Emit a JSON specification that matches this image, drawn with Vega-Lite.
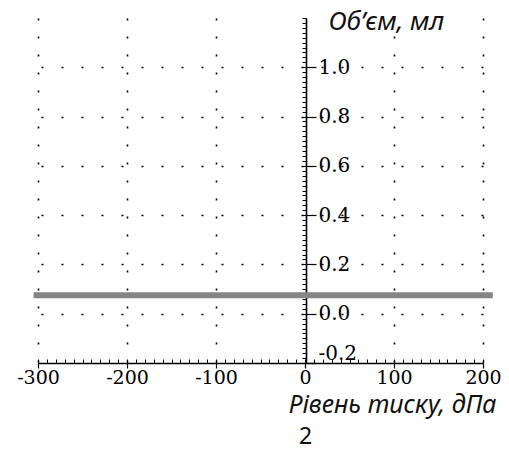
{
  "$schema": "https://vega.github.io/schema/vega-lite/v6.json",
  "width": 445,
  "height": 345,
  "autosize": "none",
  "padding": {"left": 38, "top": 18, "right": 26, "bottom": 92},
  "background": "white",
  "config": {"view": {"stroke": null}},
  "title": {"text": "2", "orient": "bottom", "frame": "group", "anchor": "middle", "dx": 45, "offset": 9, "font": "Noto Sans", "fontSize": 23, "fontWeight": "normal", "color": "#111"},
  "data": {"values": [
    {"p": -305, "v": 0.075},
    {"p": -200, "v": 0.075},
    {"p": -100, "v": 0.075},
    {"p": 0, "v": 0.075},
    {"p": 100, "v": 0.075},
    {"p": 211, "v": 0.075}
  ]},
  "layer": [
    {
      "mark": {"type": "line", "color": "#858585", "strokeWidth": 6, "clip": false},
      "encoding": {
        "x": {"field": "p", "type": "quantitative", "scale": {"domain": [-300, 200], "nice": false, "zero": false},
          "axis": {"orient": "bottom", "values": [-300, -200, -100, 0, 100, 200],
            "labelExpr": "replace(format(datum.value, 'd'), '\u2212', '-')",
            "title": "Рівень тиску, дПа", "titleX": 458, "titleY": 41, "titleAlign": "right", "titleBaseline": "middle", "titleAngle": 0,
            "titleFont": "Noto Sans", "titleFontStyle": "italic", "titleFontWeight": "normal", "titleFontSize": 25, "titleColor": "#111",
            "labelFont": "DejaVu Serif", "labelFontSize": 19, "labelColor": "#000", "labelPadding": 0, "labelFlush": false, "labelOverlap": false, "labelBound": false,
            "tickSize": 5, "tickColor": "#000", "tickWidth": 1.2, "domainColor": "#000", "domainWidth": 1.5,
            "grid": true, "gridColor": "#000", "gridDash": [2, 16], "gridWidth": 1.6,
            "gridOpacity": {"condition": {"test": "datum.value == 0", "value": 0}, "value": 1}}},
        "y": {"field": "v", "type": "quantitative", "scale": {"domain": [-0.2, 1.2], "nice": false, "zero": false},
          "axis": {"orient": "right", "offset": -177, "values": [-0.2, 0, 0.2, 0.4, 0.6, 0.8, 1.0],
            "labelExpr": "replace(format(datum.value, '.1f'), '\u2212', '-')",
            "labelFont": "DejaVu Serif", "labelFontSize": 20, "labelColor": "#000", "labelPadding": 2, "labelFlush": false, "labelOverlap": false, "labelBound": false,
            "labelBaseline": {"condition": {"test": "datum.value < -0.1", "value": "bottom"}, "value": "middle"},
            "tickSize": 10, "tickColor": "#000", "tickWidth": 1.2, "domainColor": "#000", "domainWidth": 1.6,
            "grid": true, "gridColor": "#000", "gridDash": [2, 18], "gridWidth": 1.6,
            "gridOpacity": {"condition": {"test": "datum.value < -0.1", "value": 0}, "value": 1},
            "title": "Об’єм, мл", "titleX": 22, "titleY": 3, "titleAlign": "left", "titleBaseline": "middle", "titleAngle": 0,
            "titleFont": "Noto Sans", "titleFontStyle": "italic", "titleFontWeight": "normal", "titleFontSize": 26, "titleColor": "#111"}}
      }
    },
    {
      "mark": {"type": "line", "strokeOpacity": 0},
      "encoding": {
        "x": {"field": "p", "type": "quantitative",
          "axis": {"orient": "top", "offset": -345, "tickCount": 50, "labels": false, "domain": false, "grid": false, "title": null, "tickSize": 4, "tickColor": "#000", "tickWidth": 1}},
        "y": {"field": "v", "type": "quantitative",
          "axis": {"orient": "left", "offset": -268, "tickCount": 70, "labels": false, "domain": false, "grid": false, "title": null, "tickSize": 4, "tickColor": "#000", "tickWidth": 1}}
      }
    }
  ],
  "resolve": {"axis": {"x": "independent", "y": "independent"}}
}
